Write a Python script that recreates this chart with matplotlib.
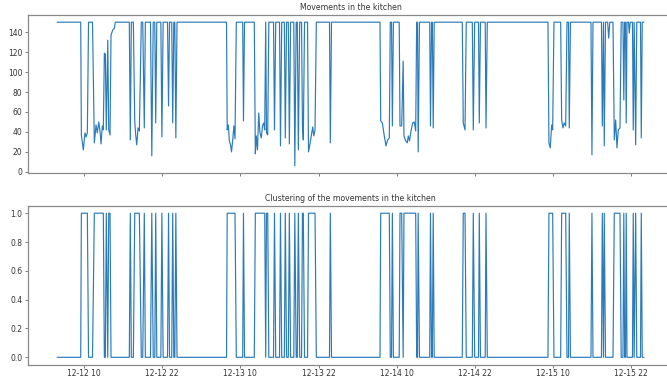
import matplotlib
matplotlib.use("Agg")
import matplotlib.pyplot as plt
import matplotlib.dates as mdates
import numpy as np
import pandas as pd

# hours since 2019-12-12 00:00
hours = [5.90, 9.49, 9.59, 9.89, 10.15, 10.31, 10.51, 10.69, 11.30, 11.58,
         11.84, 12.04, 12.26, 12.46, 12.61, 12.81, 12.96, 13.12, 13.27, 13.42,
         13.64, 13.79, 13.99, 14.14, 14.40, 14.65, 14.80, 16.95, 17.10, 17.26,
         17.57, 17.78, 17.93, 18.09, 18.29, 18.49, 18.79, 19.01, 19.25, 19.41,
         20.20, 20.40, 20.62, 20.86, 21.00, 21.17, 21.79, 21.95, 22.14, 22.81,
         22.97, 23.12, 23.46, 23.61, 23.78, 23.93, 24.09, 24.27, 31.87, 31.97,
         32.14, 32.30, 32.48, 32.63, 32.82, 33.00, 33.17, 33.37, 34.35, 34.47,
         34.63, 36.13, 36.29, 36.44, 36.62, 36.81, 36.98, 37.21, 37.39, 37.58,
         37.73, 37.88, 38.00, 38.19, 38.36, 39.08, 39.23, 39.42, 40.00, 40.15,
         40.34, 40.74, 40.89, 41.08, 41.35, 41.51, 41.70, 42.19, 42.35, 42.56,
         42.73, 42.89, 43.10, 43.38, 43.52, 43.65, 43.84, 44.30, 44.45, 44.68,
         44.91, 45.10, 45.26, 45.45, 45.65, 47.67, 47.80, 47.98, 55.42, 55.53,
         55.78, 56.08, 56.34, 56.60, 56.85, 57.00, 57.19, 57.32, 57.48, 58.37,
         58.49, 58.75, 58.98, 59.10, 59.36, 59.61, 59.76, 59.95, 60.18, 60.44,
         60.68, 60.90, 61.05, 61.18, 61.28, 61.48, 63.05, 63.17, 63.33, 63.45,
         63.59, 63.74, 68.05, 68.20, 68.47, 68.66, 69.59, 69.74, 69.95, 70.54,
         70.66, 70.84, 71.57, 71.69, 71.89, 81.20, 81.35, 81.55, 81.77, 81.92,
         82.12, 83.15, 83.30, 83.50, 83.70, 83.92, 84.12, 84.35, 84.47, 84.65,
         87.80, 87.95, 88.11, 89.41, 89.54, 89.72, 89.84, 90.03, 90.36, 90.52,
         90.69, 91.18, 91.38, 91.59, 91.79, 91.99, 92.25, 92.44, 92.71, 92.84,
         92.97, 93.10, 93.21, 93.33, 93.56, 93.68, 93.82, 94.17, 94.29, 94.43,
         94.66, 94.83, 95.40, 95.52, 95.67, 95.89]

movement = [150, 150, 37, 22, 39, 35, 39, 150, 150, 29,
            47, 39, 50, 40, 28, 46, 42, 119, 118, 42,
            132, 42, 37, 137, 142, 144, 150, 150, 32, 150,
            150, 51, 37, 27, 44, 41, 150, 150, 44, 150,
            150, 16, 150, 150, 49, 150, 150, 35, 150, 150,
            66, 150, 150, 49, 150, 150, 34, 150, 150, 42,
            47, 31, 27, 20, 32, 46, 33, 150, 150, 51,
            150, 150, 18, 36, 22, 59, 40, 34, 46, 49,
            42, 150, 39, 37, 150, 150, 42, 150, 150, 26,
            150, 150, 34, 150, 150, 28, 150, 150, 6, 150,
            150, 22, 150, 150, 46, 32, 150, 150, 20, 28,
            37, 45, 36, 42, 150, 150, 29, 150, 150, 51,
            49, 36, 26, 32, 34, 150, 150, 46, 150, 150,
            46, 46, 111, 36, 31, 29, 36, 31, 41, 49,
            50, 41, 150, 150, 20, 150, 150, 46, 150, 150,
            44, 150, 150, 49, 42, 150, 150, 42, 150, 150,
            49, 150, 150, 44, 150, 150, 29, 24, 47, 42,
            150, 150, 52, 44, 49, 46, 150, 150, 44, 150,
            150, 17, 150, 150, 46, 150, 26, 150, 150, 134,
            150, 150, 32, 52, 24, 42, 44, 150, 150, 72,
            150, 150, 49, 150, 150, 139, 150, 150, 42, 150,
            27, 150, 150, 34, 150, 150]

cluster = [0, 0, 1, 1, 1, 1, 1, 0, 0, 1,
           1, 1, 1, 1, 1, 1, 1, 0, 0, 1,
           0, 1, 1, 0, 0, 0, 0, 0, 1, 0,
           0, 1, 1, 1, 1, 1, 0, 0, 1, 0,
           0, 1, 0, 0, 1, 0, 0, 1, 0, 0,
           1, 0, 0, 1, 0, 0, 1, 0, 0, 1,
           1, 1, 1, 1, 1, 1, 1, 0, 0, 1,
           0, 0, 1, 1, 1, 1, 1, 1, 1, 1,
           1, 0, 1, 1, 0, 0, 1, 0, 0, 1,
           0, 0, 1, 0, 0, 1, 0, 0, 1, 0,
           0, 1, 0, 0, 1, 1, 0, 0, 1, 1,
           1, 1, 1, 1, 0, 0, 1, 0, 0, 1,
           1, 1, 1, 1, 1, 0, 0, 1, 0, 0,
           1, 1, 0, 1, 1, 1, 1, 1, 1, 1,
           1, 1, 0, 0, 1, 0, 0, 1, 0, 0,
           1, 0, 0, 1, 1, 0, 0, 1, 0, 0,
           1, 0, 0, 1, 0, 0, 1, 1, 1, 1,
           0, 0, 1, 1, 1, 1, 0, 0, 1, 0,
           0, 1, 0, 0, 1, 0, 1, 0, 0, 0,
           0, 0, 1, 1, 1, 1, 1, 0, 0, 1,
           0, 0, 1, 0, 0, 0, 0, 0, 1, 0,
           1, 0, 0, 1, 0, 0]

titles = ["Movements in the kitchen", "Clustering of the movements in the kitchen"]

base = pd.Timestamp("2019-12-12 00:00")
times = base + pd.to_timedelta(np.array(hours), unit="h")

W, H = 667, 378
fig = plt.figure(figsize=(W / 100, H / 100), dpi=100)

left = 28 / W
width = (673 - 28) / W
ax1 = fig.add_axes([left, 1 - 173 / H, width, 158 / H])
ax2 = fig.add_axes([left, 1 - 364.5 / H, width, 158.5 / H], sharex=ax1)

line_color = "#2b7bba"
ax1.plot(times, movement, color=line_color, lw=0.85)
ax2.plot(times, cluster, color=line_color, lw=0.85)

for ax, t in zip((ax1, ax2), titles):
    ax.set_title(t, fontsize=5.6, color="#333333", pad=3.5)
    for s in ax.spines.values():
        s.set_color("#8a8a8a")
        s.set_linewidth(0.9)
    ax.tick_params(labelsize=5.5, colors="#666666", length=2.5, width=0.6, pad=1.5)
    ax.tick_params(axis="both", labelcolor="#333333")
ax2.tick_params(axis="x", pad=0.8)

ax1.set_yticks([0, 20, 40, 60, 80, 100, 120, 140])
ax2.set_yticks([0.0, 0.2, 0.4, 0.6, 0.8, 1.0])

ax2.xaxis.set_major_locator(mdates.HourLocator(byhour=[10, 22]))
ax2.xaxis.set_major_formatter(mdates.DateFormatter("%m-%d %H"))
plt.setp(ax1.get_xticklabels(), visible=False)

fig.savefig("out.png", dpi=100)
